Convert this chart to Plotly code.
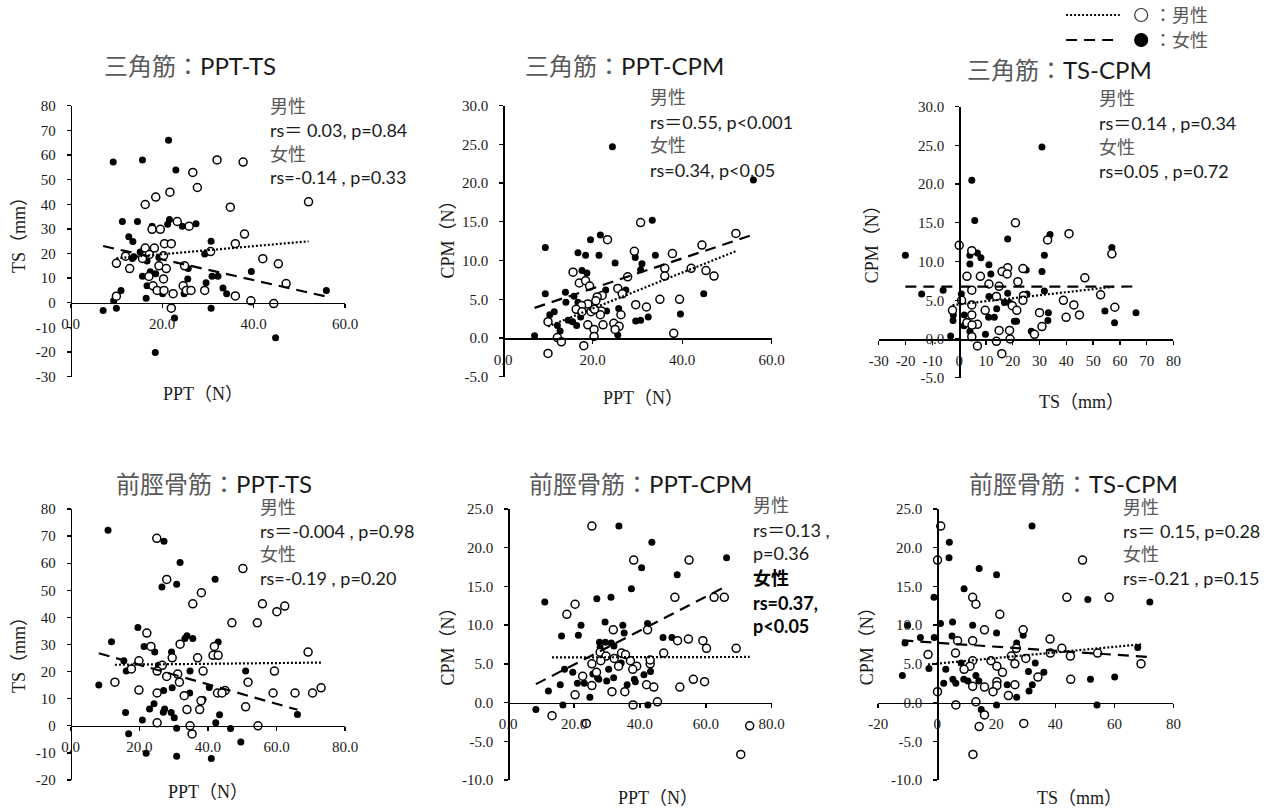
import numpy as np
import plotly.graph_objects as go

W, H = 1274, 809

# ---------------- data ----------------
# Panel 1: 三角筋 PPT-TS
d_ppt_ts_f_x = [9.3, 15.7, 21.4, 23.0, 11.3, 14.6, 17.8, 21.6, 21.2, 24.4, 27.4, 12.7, 13.6, 30.7, 15.2, 13.8, 16.7, 19.3, 29.3, 25.7, 17.4, 18.6, 15.7, 25.6, 30.9, 32.2, 39.5, 16.7, 29.6, 33.3, 34.1, 24.8, 20.1, 16.5, 11.0, 9.4, 7.1, 10.0, 22.7, 30.7, 18.5, 44.8, 55.9, 13.5]
d_ppt_ts_f_y = [57.1, 58, 66, 53.9, 33, 33, 31.1, 33.8, 31.9, 31.1, 32.1, 26.8, 24.9, 25.0, 20.6, 18.7, 17, 18.4, 19.8, 13.9, 12.6, 11.8, 10.8, 9.7, 10.8, 10.8, 12.7, 6.9, 8.1, 6, 3.7, 3.7, 3.7, 1.8, 5, 0.8, -3.1, -2.2, -6.2, -2.2, -20.2, -14.2, 5, 18.0]
d_ppt_ts_m_x = [32.0, 37.7, 26.7, 27.7, 21.7, 18.6, 16.3, 34.9, 52, 23.3, 25.9, 17.8, 19.6, 38.0, 20.5, 22, 36, 16.3, 18.3, 12, 15.7, 17.2, 20.3, 30.6, 10, 12.9, 19.3, 20.9, 24.9, 42, 45.4, 17.1, 20.3, 47.1, 18, 24.6, 18.9, 20.4, 25.3, 26.3, 29.3, 22.4, 36, 10, 39.4, 44.4, 22]
d_ppt_ts_m_y = [58, 57.1, 52.9, 46.8, 44.9, 42.9, 39.9, 38.8, 41, 33, 31.1, 29.8, 29.8, 27.9, 24, 24, 24, 22.2, 22.2, 18.9, 18, 19.6, 19.1, 20.8, 16, 13.9, 15, 13.9, 15, 17.9, 15.8, 10.7, 9.7, 7.8, 6.9, 6.9, 5, 5, 5, 5, 5, 3.7, 2.8, 2.7, 0.8, -0.3, -2.2]

# Panel 2: 三角筋 PPT-CPM
d_ppt_cpm_f_x = [24.4, 55.9, 33.3, 21.7, 19.5, 9.4, 16.7, 18.4, 21.4, 34, 25, 29.5, 31.0, 30.7, 17.6, 18.7, 22.9, 27.4, 9.4, 13.9, 15.8, 14, 16.7, 17.6, 23.1, 25.8, 11.4, 10.4, 17.3, 14.5, 15.5, 16.4, 12.1, 12.7, 7, 25.6, 29.6, 30.7, 32.4, 39.6, 44.8]
d_ppt_cpm_f_y = [24.7, 20.4, 15.2, 13.3, 12.7, 11.7, 11.0, 10.7, 10.7, 10.7, 9.7, 10.4, 9.6, 8.8, 8.7, 8.4, 6.2, 6.2, 5.7, 5.9, 5.4, 4.6, 4.6, 3.9, 3.5, 3.8, 3.4, 3.0, 2.7, 2.3, 2.1, 1.6, 1.6, 0.9, 0.3, 0.4, 2.2, 2.3, 2.7, 3.1, 5.7]
d_ppt_cpm_m_x = [30.7, 23.3, 52, 44.4, 29.3, 37.8, 36.1, 42, 45.3, 47.1, 36.1, 27.8, 15.6, 17, 18.4, 19.3, 25.6, 26.6, 22.1, 21, 20.7, 35, 39.4, 29.6, 32, 18.9, 17.5, 16.3, 17.6, 19.6, 21.9, 21.7, 20.4, 26.3, 10, 24.7, 25.9, 18.9, 22.3, 20.3, 25, 20.3, 12.1, 13, 38.1, 18, 10]
d_ppt_cpm_m_y = [14.9, 12.7, 13.5, 12, 11.2, 10.9, 9.0, 9.0, 8.7, 8.0, 8.0, 7.9, 8.5, 7.1, 7.4, 6.7, 6.4, 5.7, 5.5, 5.3, 4.8, 5.0, 5.0, 4.3, 4.0, 4.4, 4.2, 3.7, 3.4, 3.4, 3.5, 3.0, 3.7, 3.0, 2.1, 1.9, 1.5, 1.7, 1.7, 1.1, 1.1, 0.2, 0.05, -0.5, 0.6, -1.0, -2.0]

# Panel 3: 三角筋 TS-CPM
d_ts_cpm_f_x = [30.9, 4.7, 5.8, 18.1, 33.9, 31.8, 57, -20.1, 4, 6.8, 8.1, 4, 11.1, 11.8, 25, 30.9, -6, -14, 31.8, 18.1, 25.3, 0.8, 11.1, 14, 16.9, 18.8, 1.9, 33.3, 54.4, 66, 11, 13.1, 20.6, 21.4, 33.1, -2.3, 1.8, 58, 4, 26.9, 9.8, -3.2, -2.2]
d_ts_cpm_f_y = [24.8, 20.5, 15.3, 12.9, 13.5, 10.8, 11.8, 10.8, 10.8, 11.1, 10.5, 9.7, 9.6, 8.4, 8.9, 8.7, 6.3, 5.8, 6.2, 5.9, 5.8, 5.8, 5.5, 3.9, 4.7, 4.7, 3.1, 3.4, 3.6, 3.4, 2.8, 2.8, 2.3, 2.3, 2.4, 2.4, 1.7, 2.1, 1.0, 1.0, 0.6, 0.4, 3.1]
d_ts_cpm_m_x = [21, 33, 41, 0, 4.7, 57, 18.1, 23.8, 2.9, 7.9, 16, 17.9, 46.9, 11.1, 21.9, 14.9, 4.7, 52.8, 13.9, 24, 0.9, 23.8, 38.9, 58.1, 42.8, 4.7, 19.8, -2.5, 9.7, 21.5, 30, 44.9, 4.7, 39.9, 2.9, 6.8, 4.8, 30.9, 14.9, 18.8, 28.1, 4.7, 19, 13.9, 6.8, 15.9]
d_ts_cpm_m_y = [15, 12.8, 13.6, 12.1, 11.4, 11, 9.2, 9.1, 8.1, 8.1, 8.7, 8.4, 7.9, 7.1, 7.4, 6.8, 6.3, 5.7, 5.5, 5.6, 5.0, 5.0, 5.0, 4.1, 4.4, 4.4, 4.3, 3.7, 3.7, 3.7, 3.4, 3.1, 3.1, 2.8, 2.1, 1.9, 1.8, 1.6, 1.1, 1.1, 0.6, 0.3, 0, -0.3, -0.9, -1.9]

# Panel 4: 前脛骨筋 PPT-TS
t_ppt_ts_f_x = [10.9, 27.2, 31.9, 42.1, 26.6, 30.9, 19.6, 11.9, 21.4, 33.3, 33.9, 35.6, 43, 24.5, 29.4, 15.5, 25.6, 16.2, 34.8, 51, 8.2, 27.1, 29.6, 34.7, 40.4, 38.6, 24.3, 23, 27.4, 27, 16, 29.3, 30.2, 20.9, 43.4, 42.3, 66.1, 16.9, 30.9, 46.6, 49.6, 22, 30.9, 41]
t_ppt_ts_f_y = [72.2, 68.1, 60.3, 54.1, 51.2, 52.2, 36.3, 31, 29.3, 32.2, 33.2, 32.2, 30.9, 27.2, 27.2, 24, 22.3, 20.2, 20.2, 20.2, 15.1, 13.0, 14, 12.1, 14.1, 9.7, 8.1, 6.2, 6.2, 5, 4.9, 4.9, 3, 2.1, 4.1, 1.1, 4.2, -2.9, -0.9, -1, -6, -10.1, -11.2, -12.1]
t_ppt_ts_m_x = [25.1, 50.2, 28, 38.1, 35.6, 55.9, 62.4, 60.1, 47, 54.4, 22.2, 23.4, 31.9, 41.9, 69.2, 41.5, 43, 29.6, 37, 19.9, 26.7, 17.7, 25.2, 38.6, 59.4, 31.2, 28, 12.9, 31.7, 51.7, 19.9, 45, 25.2, 42.8, 44.1, 59, 65.4, 70.5, 73, 33.1, 38, 33.9, 37.6, 51, 25.2, 34.8, 54.6, 35.4]
t_ppt_ts_m_y = [69.2, 58, 54, 49.1, 45, 45, 44.2, 42.1, 38, 38, 34.2, 29.3, 30.1, 29.3, 27.2, 26, 26, 25.1, 25.1, 24, 22.3, 21, 20.2, 20.2, 20.2, 19.1, 18.2, 16.1, 16.1, 16.1, 13.2, 13, 12.1, 12.1, 12.1, 12.1, 12.1, 12.1, 14, 11.1, 9.2, 6, 6, 7, 1.1, 0, 0, -3]

# Panel 5: 前脛骨筋 PPT-CPM
t_ppt_cpm_f_x = [33.6, 43.6, 66.3, 40.5, 51.3, 37.4, 11.1, 26.9, 31.2, 29.4, 22.1, 34.8, 42.3, 35.2, 16.2, 21.3, 47, 49.7, 27.7, 29.5, 31.3, 27.9, 32.1, 17.1, 19.6, 34.3, 30.5, 43.2, 41.2, 25.7, 21, 23.1, 15.8, 27.5, 27.1, 29.9, 32, 38.3, 38.6, 36.1, 12.2, 24.8, 16.6, 42.4, 8.4]
t_ppt_cpm_f_y = [22.8, 20.7, 18.7, 17.4, 16.5, 14.7, 13, 13.4, 13.6, 10.4, 10, 10, 10.2, 9, 8.6, 8.7, 8.4, 8.4, 7.8, 7.8, 7.7, 7.1, 7.3, 4.3, 3.9, 5.1, 4.3, 4.0, 3.6, 3.7, 2.5, 2.5, 2.3, 3.0, 3.2, 2.8, 3.2, 3.0, 2.7, 2.3, 1.5, 0.7, -0.3, -0.3, -0.9]
t_ppt_cpm_m_x = [25.4, 38.1, 54.9, 20.3, 17.8, 50.6, 62.5, 65.6, 31.9, 42.3, 51.4, 54.7, 59.1, 60.2, 69.2, 27.9, 47.2, 34.4, 35.6, 29.7, 32.2, 37.1, 28.1, 25.4, 43.1, 43.1, 33.5, 39, 37.8, 26.8, 22.6, 56.2, 59.6, 42, 25.4, 44.2, 52.1, 31.5, 35.4, 20.3, 45.3, 37.9, 13.3, 23.7, 73.3, 70.6]
t_ppt_cpm_m_y = [22.8, 18.4, 18.4, 12.7, 11.4, 13.6, 13.6, 13.6, 9.4, 9.4, 8.0, 8.2, 8.0, 7.0, 7.0, 6.5, 6.4, 6.4, 6.2, 6.0, 5.7, 5.4, 5.4, 5.0, 5.0, 5.5, 4.7, 4.7, 4.3, 3.9, 3.4, 3.0, 2.7, 2.3, 2.2, 2.0, 2.0, 1.4, 1.4, 1.0, 0.1, -0.3, -1.7, -2.7, -3.0, -6.7]

# Panel 6: 前脛骨筋 TS-CPM
t_ts_cpm_f_x = [32.1, 4.1, 4, 14.2, 20.1, 9.1, -1.1, 51, 72, -10, 1.1, 5.2, 12, 20.1, 29.1, 5, -5.7, -1, -10.9, 26.9, 67.9, 8.1, 33.2, -2.8, 2.9, 30.9, 36.1, -11.8, 13.1, 60.1, 51.9, 5.3, 9, 10.4, 14.1, 2.2, 6.3, 23.7, 32.2, 31.1, 26.9, 20.1, 54.1, 14.9]
t_ts_cpm_f_y = [22.8, 20.7, 18.7, 17.3, 16.5, 14.7, 13.6, 13.3, 13, 10, 10.2, 10.4, 10, 9, 8.7, 8.6, 8.4, 8.4, 7.7, 7.7, 7.1, 5.1, 5.1, 4.4, 4.3, 4.0, 3.9, 3.5, 3.5, 3.3, 3.0, 3.0, 3.0, 2.8, 2.8, 2.5, 2.5, 2.3, 2.3, 1.5, 0.7, -0.3, -0.3, -0.9]
t_ts_cpm_m_x = [1.2, 0.1, 49.2, 12, 13.1, 43.9, 58.2, 21.2, 16, 29.1, 6.9, 12, 38.2, 42.2, 26.8, -3.1, 6.2, 38.3, 54.3, 25.1, 45.1, 18.2, 12, 30, 26.3, 69, 20.2, 11.1, 9.1, 22.1, 34.1, 45.2, 20.2, 20.2, 26.3, 12, 16, 18.9, 0.1, 24.1, 13.1, 6.3, 16, 29.3, 14.2, 12.1]
t_ts_cpm_m_y = [22.8, 18.4, 18.4, 13.6, 12.7, 13.6, 13.6, 11.4, 9.4, 9.4, 8.0, 8.0, 8.2, 7.0, 7.0, 6.2, 6.4, 6.4, 6.4, 6.0, 6.0, 5.4, 5.4, 5.7, 5.0, 5.0, 4.7, 4.7, 4.3, 3.9, 3.3, 3.0, 2.7, 2.2, 2.3, 2.1, 2.0, 1.4, 1.4, 0.9, 0.1, -0.3, -1.6, -2.7, -3.1, -6.7]

titles_muscle = ["三角筋", "三角筋", "三角筋", "前脛骨筋", "前脛骨筋", "前脛骨筋"]
titles_pair = ["PPT-TS", "PPT-CPM", "TS-CPM", "PPT-TS", "PPT-CPM", "TS-CPM"]
x_titles = ["PPT（N）", "PPT（N）", "TS（mm）", "PPT（N）", "PPT（N）", "TS（mm）"]
y_titles = ["TS（mm）", "CPM（N）", "CPM（N）", "TS（mm）", "CPM（N）", "CPM（N）"]
x_ranges = [(0, 60), (0, 60), (-30, 80), (0, 80), (0, 80), (-20, 80)]
y_ranges = [(-30, 80), (-5, 30), (-5, 30), (-20, 80), (-10, 25), (-10, 25)]
x_steps = [20, 20, 10, 20, 20, 20]
y_steps = [10, 5, 5, 10, 5, 5]
x_decimals = [1, 1, 0, 1, 1, 0]
y_decimals = [0, 1, 1, 0, 1, 1]

stats_text = [
    ["男性", "rs＝ 0.03, p=0.84", "女性", "rs=-0.14 , p=0.33"],
    ["男性", "rs＝0.55, p&lt;0.001", "女性", "rs=0.34, p&lt;0.05"],
    ["男性", "rs＝0.14 , p=0.34", "女性", "rs=0.05 , p=0.72"],
    ["男性", "rs＝-0.004 , p=0.98", "女性", "rs=-0.19 , p=0.20"],
    ["男性", "rs＝0.13 ,", "p=0.36", "<b>女性</b>", "<b>rs=0.37,</b>", "<b>p&lt;0.05</b>"],
    ["男性", "rs＝ 0.15, p=0.28", "女性", "rs=-0.21 , p=0.15"],
]

series = [
    (d_ppt_ts_m_x, d_ppt_ts_m_y, d_ppt_ts_f_x, d_ppt_ts_f_y),
    (d_ppt_cpm_m_x, d_ppt_cpm_m_y, d_ppt_cpm_f_x, d_ppt_cpm_f_y),
    (d_ts_cpm_m_x, d_ts_cpm_m_y, d_ts_cpm_f_x, d_ts_cpm_f_y),
    (t_ppt_ts_m_x, t_ppt_ts_m_y, t_ppt_ts_f_x, t_ppt_ts_f_y),
    (t_ppt_cpm_m_x, t_ppt_cpm_m_y, t_ppt_cpm_f_x, t_ppt_cpm_f_y),
    (t_ts_cpm_m_x, t_ts_cpm_m_y, t_ts_cpm_f_x, t_ts_cpm_f_y),
]

# ---------------- layout geometry (target pixels) ----------------
boxes = [  # left, right, top, bottom
    (69, 345, 105.7, 376.7),
    (504, 774, 105.7, 376.7),
    (881.7, 1178, 106.7, 377.7),
    (69, 345, 509, 780),
    (509, 774, 509, 780),
    (881, 1178, 509, 780),
]
title_pos = [(189, 65), (626, 65), (1063, 70), (213, 483), (642, 483), (1077, 483)]
xtitle_pos = [(202, 394), (645, 398), (1085, 402), (207, 792), (660, 798), (1083, 798)]
ytitle_pos = [(17, 230), (448, 235), (875, 240), (17, 650), (448, 642), (870, 642)]
stats_pos = [
    (267, [106, 130, 154, 177]),
    (650, [97, 122, 145, 170]),
    (1101, [98, 123, 147, 171]),
    (257, [507, 531, 554, 578]),
    (753, [505, 530, 553, 578, 603, 626]),
    (1125, [507, 531, 554, 578]),
]

GRAY = "#595959"
INK = "#1a1a1a"
SANS = "Lato, 'Noto Sans CJK JP', sans-serif"
SERIF = "'Liberation Serif', 'Noto Sans CJK JP', serif"

# the photographed page shows the figure inside an 8px frame; map target pixels accordingly
PAD = 8.0
SX = (W - 2 * PAD) / W
SY = (H - 2 * PAD) / H


def fx(px):
    return ((px - PAD) / SX) / W


def fy(py):
    return 1 - ((py - PAD) / SY) / H


def colorize(s):
    out = s
    for w in ["男性", "女性", "：", "三角筋", "前脛骨筋"]:
        if w in out and "<b>" not in out:
            out = out.replace(w, f'<span style="color:{GRAY}">{w}</span>')
    return out


fig = go.Figure()
annotations = []
layout = {}

for i in range(6):
    k = "" if i == 0 else str(i + 1)
    mx, my, wx, wy = series[i]
    xa, ya = f"x{k}", f"y{k}"
    # women (filled)
    fig.add_trace(go.Scatter(x=wx, y=wy, mode="markers", xaxis=xa, yaxis=ya,
                             marker=dict(size=7, color="black"), showlegend=False))
    # men (open)
    fig.add_trace(go.Scatter(x=mx, y=my, mode="markers", xaxis=xa, yaxis=ya,
                             marker=dict(size=8, color="white", line=dict(width=1.5, color="black")),
                             showlegend=False))
    # trend lines (least squares from the data)
    for sx, sy, dash in [(mx, my, "2px,2px"), (wx, wy, "11px,7px")]:
        sx = np.asarray(sx, float)
        sy = np.asarray(sy, float)
        c = np.polyfit(sx, sy, 1)
        lx = np.array([sx.min(), sx.max()])
        fig.add_trace(go.Scatter(x=lx, y=np.polyval(c, lx), mode="lines", xaxis=xa, yaxis=ya,
                                 line=dict(color="black", width=2.2, dash=dash), showlegend=False))

    l, r, t, b = boxes[i]
    x0, x1 = x_ranges[i]
    y0, y1 = y_ranges[i]
    xvals = np.arange(x0, x1 + 1e-9, x_steps[i])
    yvals = np.arange(y0, y1 + 1e-9, y_steps[i])
    xtext = [f"{v:.{x_decimals[i]}f}" for v in xvals]
    ytext = [f"{v:.{y_decimals[i]}f}" for v in yvals]
    xdom = [fx(l), fx(r)]
    ydom = [fy(b), fy(t)]
    xpos = ydom[0] + (0 - y0) / (y1 - y0) * (ydom[1] - ydom[0])
    ypos = xdom[0] + (0 - x0) / (x1 - x0) * (xdom[1] - xdom[0])
    common = dict(showline=True, linecolor="black", linewidth=1.6, ticks="outside", ticklen=4,
                  tickcolor="black", tickwidth=1.3, showgrid=False, zeroline=False,
                  tickfont=dict(family=SERIF, size=15, color=INK), tickmode="array")
    layout[f"xaxis{k}"] = dict(domain=xdom, range=[x0, x1], anchor="free", position=xpos,
                               tickvals=xvals, ticktext=xtext, ticklabelstandoff=3, **common)
    layout[f"yaxis{k}"] = dict(domain=ydom, range=[y0, y1], anchor="free", position=ypos,
                               tickvals=yvals, ticktext=ytext, ticklabelstandoff=8, **common)

    # panel title
    tx, ty = title_pos[i]
    annotations.append(dict(x=fx(tx), y=fy(ty), xref="paper", yref="paper", showarrow=False,
                            xanchor="center", yanchor="middle",
                            text=f'<span style="color:{GRAY}">{titles_muscle[i]}：</span>{titles_pair[i]}',
                            font=dict(family=SANS, size=24, color=INK)))
    # axis titles
    ax_, ay_ = xtitle_pos[i]
    annotations.append(dict(x=fx(ax_), y=fy(ay_), xref="paper", yref="paper", showarrow=False,
                            xanchor="center", yanchor="middle", text=x_titles[i],
                            font=dict(family=SERIF, size=18, color=INK)))
    bx_, by_ = ytitle_pos[i]
    annotations.append(dict(x=fx(bx_), y=fy(by_), xref="paper", yref="paper", showarrow=False,
                            xanchor="center", yanchor="middle", text=y_titles[i], textangle=-90,
                            font=dict(family=SERIF, size=18, color=INK)))
    # statistics text
    sx0, sys_ = stats_pos[i]
    for line, yy in zip(stats_text[i], sys_):
        annotations.append(dict(x=fx(sx0), y=fy(yy), xref="paper", yref="paper", showarrow=False,
                                xanchor="left", yanchor="middle", text=colorize(line),
                                font=dict(family=SANS, size=18, color="black" if "<b>" in line else INK)))

# legend (top right)
shapes = []
legend_rows = [("男性", 15, "2px,2px", "white"), ("女性", 40, "11px,7px", "black")]
for label, yy, dash, fill in legend_rows:
    shapes.append(dict(type="line", xref="paper", yref="paper", x0=fx(1070), x1=fx(1124),
                       y0=fy(yy), y1=fy(yy), line=dict(color="black", width=2.2, dash=dash)))
    shapes.append(dict(type="circle", xref="paper", yref="paper", x0=fx(1139), x1=fx(1152),
                       y0=fy(yy + 6.5), y1=fy(yy - 6.5), fillcolor=fill,
                       line=dict(color="#333" if fill == "white" else "black", width=1.2)))
    annotations.append(dict(x=fx(1156), y=fy(yy), xref="paper", yref="paper", showarrow=False,
                            xanchor="left", yanchor="middle", text="：" + label,
                            font=dict(family=SANS, size=18, color=GRAY)))

fig.update_layout(width=W, height=H, margin=dict(l=0, r=0, t=0, b=0),
                  paper_bgcolor="white", plot_bgcolor="white", showlegend=False,
                  annotations=annotations, shapes=shapes, **layout)

fig.write_html("out.html", config={"displayModeBar": False, "staticPlot": True},
               post_script="document.body.style.margin='0';document.body.style.overflow='hidden';")
